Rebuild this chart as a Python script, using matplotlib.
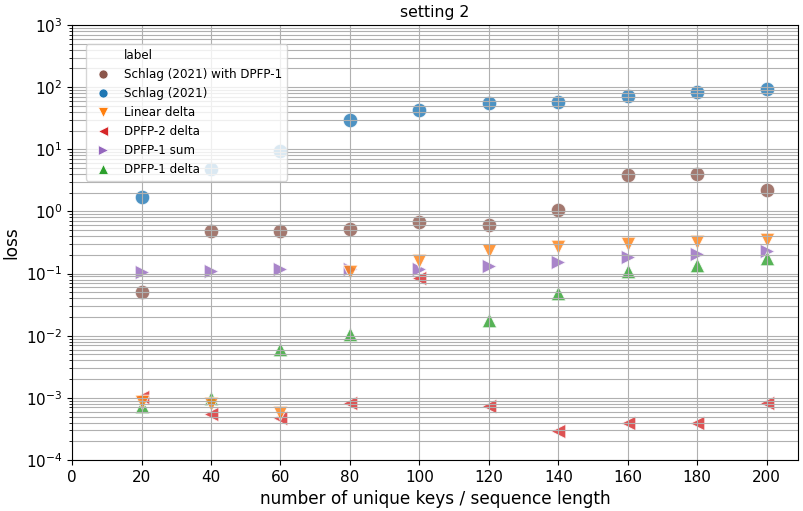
import matplotlib
matplotlib.use("Agg")
import matplotlib.pyplot as plt
from matplotlib.lines import Line2D
from matplotlib.ticker import MultipleLocator

# sequence lengths / number of unique keys
x = [20, 40, 60, 80, 100, 120, 140, 160, 180, 200]

schlag_dpfp1 = [0.05, 0.48, 0.48, 0.52, 0.68, 0.6, 1.05, 3.9, 4.0, 2.25]
schlag = [1.7, 4.9, 9.4, 30, 43, 55, 58, 72, 84, 94]
linear_delta = [8.5e-4, 8.0e-4, 5.8e-4, 0.105, 0.16, 0.23, 0.265, 0.3, 0.32, 0.35]
dpfp2_delta = [1.05e-3, 5.4e-4, 4.8e-4, 8.2e-4, 0.085, 7.4e-4, 2.9e-4, 4.0e-4, 4.0e-4, 8.4e-4]
dpfp1_sum = [0.106, 0.112, 0.118, 0.118, 0.118, 0.133, 0.156, 0.185, 0.205, 0.235]
dpfp1_delta = [7.4e-4, 9.8e-4, 6.1e-3, 0.0105, None, 0.0178, 0.048, 0.11, 0.135, 0.175]

# (etiqueta, valores, color, marcador) en el orden de la leyenda
series = [
    ("Schlag (2021) with DPFP-1", schlag_dpfp1, "#8c564b", "o"),
    ("Schlag (2021)", schlag, "#1f77b4", "o"),
    ("Linear delta", linear_delta, "#ff7f0e", "v"),
    ("DPFP-2 delta", dpfp2_delta, "#d62728", "<"),
    ("DPFP-1 sum", dpfp1_sum, "#9467bd", ">"),
    ("DPFP-1 delta", dpfp1_delta, "#2ca02c", "^"),
]
# orden de dibujo (Linear delta queda encima)
orden_dibujo = [0, 1, 3, 4, 5, 2]

fig, ax = plt.subplots(figsize=(8.04, 5.11), dpi=100)
fig.subplots_adjust(left=0.0896, right=0.9925, top=0.951, bottom=0.0998)

for i in orden_dibujo:
    nombre, valores, color, marca = series[i]
    xs = [a for a, b in zip(x, valores) if b is not None]
    ys = [b for b in valores if b is not None]
    ax.scatter(xs, ys, s=110, c=color, marker=marca, alpha=0.8,
               edgecolors="white", linewidths=0.75)

handles = [Line2D([], [], linestyle="none", marker="", label="label")]
for nombre, valores, color, marca in series:
    handles.append(Line2D([], [], linestyle="none", marker=marca, color=color,
                          markeredgecolor="white", markeredgewidth=0.5,
                          markersize=6.5, label=nombre))

ax.set_yscale("log")
ax.set_ylim(1e-4, 1e3)
ax.set_xlim(0, 209)
ax.xaxis.set_major_locator(MultipleLocator(20))
ax.grid(True, which="both", color="#b0b0b0", linewidth=0.8)

ax.set_title("setting 2", fontsize=11.3)
ax.set_xlabel("number of unique keys / sequence length", fontsize=12.2)
ax.set_ylabel("loss", fontsize=12.2)
ax.tick_params(labelsize=11)

ax.legend(handles=handles, loc="upper left", bbox_to_anchor=(0.019, 0.956),
          fontsize=8.6, borderaxespad=0)

fig.savefig("out.png", dpi=100)
